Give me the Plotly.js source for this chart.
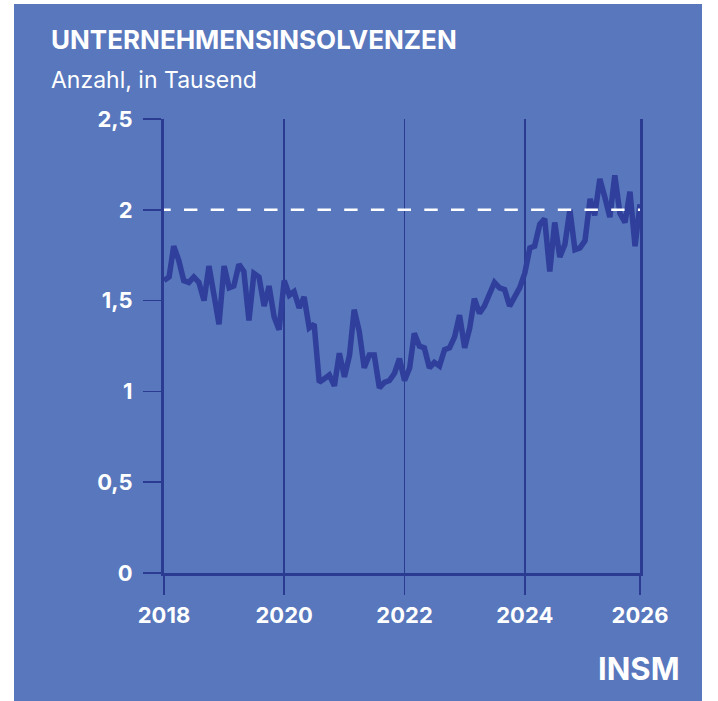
<!DOCTYPE html>
<html>
<head>
<meta charset="utf-8">
<script src="https://cdn.plot.ly/plotly-3.0.1.min.js"></script>
<style>
  html, body { margin: 0; padding: 0; background: #ffffff; }
  #wrap { position: relative; width: 718px; height: 701px; overflow: hidden; }
  #panel { position: absolute; left: 14px; top: 4px; width: 688px; height: 697px; background: #5877bd; }
  #chart { position: absolute; left: 0; top: 0; width: 718px; height: 701px; }
</style>
</head>
<body>
<div id="wrap">
  <div id="panel"></div>
  <div id="chart"></div>
</div>
<script>
// Unternehmensinsolvenzen, Anzahl in Tausend (monatlich)
const years = [2018, 2019, 2020, 2021, 2022, 2023, 2024, 2025];
const values2018 = [1.61, 1.63, 1.80, 1.72, 1.61, 1.60, 1.63, 1.60, 1.50, 1.69, 1.53, 1.37];
const values2019 = [1.69, 1.57, 1.58, 1.70, 1.66, 1.39, 1.65, 1.63, 1.47, 1.58, 1.41, 1.34];
const values2020 = [1.61, 1.53, 1.55, 1.46, 1.52, 1.35, 1.37, 1.05, 1.07, 1.09, 1.03, 1.21];
const values2021 = [1.08, 1.20, 1.45, 1.33, 1.13, 1.20, 1.20, 1.02, 1.05, 1.06, 1.10, 1.18];
const values2022 = [1.06, 1.13, 1.32, 1.25, 1.24, 1.13, 1.16, 1.14, 1.23, 1.24, 1.30, 1.42];
const values2023 = [1.24, 1.35, 1.51, 1.43, 1.47, 1.54, 1.60, 1.57, 1.56, 1.47, 1.52, 1.57];
const values2024 = [1.65, 1.79, 1.80, 1.92, 1.95, 1.66, 1.93, 1.74, 1.81, 2.00, 1.78, 1.79];
const values2025 = [1.83, 2.06, 1.97, 2.17, 2.07, 1.96, 2.19, 1.98, 1.93, 2.10, 1.80, 2.03];
const referenceLevel = 2;
const xTickVals = ['2018-01-01', '2020-01-01', '2022-01-01', '2024-01-01', '2025-12-01'];
const xTickText = ['2018', '2020', '2022', '2024', '2026'];
const titleText = 'UNTERNEHMENSINSOLVENZEN';
const subtitleText = 'Anzahl, in Tausend';
const sourceText = 'INSM';

const yearlyValues = [values2018, values2019, values2020, values2021, values2022, values2023, values2024, values2025];
const dates = [];
const vals = [];
years.forEach((y, i) => {
  yearlyValues[i].forEach((v, m) => {
    dates.push(y + '-' + String(m + 1).padStart(2, '0') + '-01');
    vals.push(v);
  });
});

const navy = '#2b3b92';
const lineColor = '#2f3f9b';
const FONT = 'Inter, "DejaVu Sans", sans-serif';

const trace = {
  x: dates, y: vals, type: 'scatter', mode: 'lines',
  line: { color: lineColor, width: 5.5, shape: 'linear' },
  cliponaxis: false, hoverinfo: 'skip', showlegend: false
};
const refTrace = {
  x: [dates[0], dates[dates.length - 1]], y: [referenceLevel, referenceLevel],
  type: 'scatter', mode: 'lines', yaxis: 'y2',
  line: { color: '#ffffff', width: 2.5, dash: '6.7px,13.3px,6.7px,0px' },
  hoverinfo: 'skip', showlegend: false
};

const layout = {
  width: 718, height: 701,
  paper_bgcolor: 'rgba(0,0,0,0)', plot_bgcolor: 'rgba(0,0,0,0)',
  margin: { l: 164.3, r: 78.4, t: 118.5, b: 128.4, pad: 0 },
  separators: ',.',
  showlegend: false,
  title: {
    text: titleText, xref: 'container', yref: 'container',
    x: 51 / 718, xanchor: 'left', y: 1 - 40 / 701, yanchor: 'middle',
    font: { family: FONT, size: 26, color: '#ffffff', weight: 'bold' }
  },
  xaxis: {
    type: 'date', range: [dates[0], dates[dates.length - 1]],
    tickmode: 'array', tickvals: xTickVals, ticktext: xTickText,
    showgrid: true, gridcolor: navy, gridwidth: 1.5,
    showline: true, linecolor: navy, linewidth: 3,
    ticks: 'outside', ticklen: 19, tickwidth: 1.5, tickcolor: navy,
    ticklabelstandoff: 2,
    tickfont: { family: FONT, size: 22, color: '#ffffff', weight: 'bold' },
    zeroline: false, fixedrange: true
  },
  yaxis: {
    range: [0, 2.5], dtick: 0.5, tick0: 0,
    showgrid: false, zeroline: false,
    showline: true, linecolor: navy, linewidth: 3,
    ticks: 'outside', ticklen: 18, tickwidth: 1.5, tickcolor: navy,
    ticklabelstandoff: 6,
    tickfont: { family: FONT, size: 22, color: '#ffffff', weight: 'bold' },
    fixedrange: true
  },
  yaxis2: {
    overlaying: 'y', side: 'right', range: [0, 2.5],
    showline: true, linecolor: navy, linewidth: 2.5,
    showticklabels: false, ticks: '', showgrid: false, zeroline: false, fixedrange: true
  },
  annotations: [
    { text: subtitleText, xref: 'paper', yref: 'paper', x: (49 - 164.3) / 475.3, y: (572.6 - 79) / 454.1,
      xanchor: 'left', yanchor: 'middle', showarrow: false,
      font: { family: FONT, size: 23, color: '#ffffff' } },
    { text: sourceText, xref: 'paper', yref: 'paper', x: (682 - 164.3) / 475.3, y: (572.6 - 668) / 454.1,
      xanchor: 'right', yanchor: 'middle', showarrow: false,
      font: { family: FONT, size: 31, color: '#ffffff', weight: 'bold' } }
  ]
};

Plotly.newPlot('chart', [trace, refTrace], layout, { displayModeBar: false, staticPlot: true });
</script>
</body>
</html>
